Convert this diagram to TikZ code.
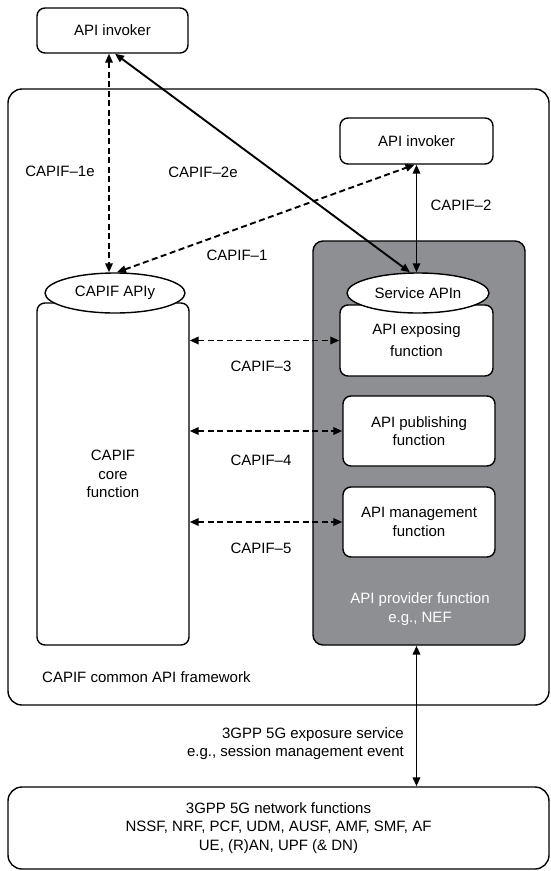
\documentclass[tikz,border=0pt]{standalone}
\usepackage{fontspec}
\setmainfont{Liberation Sans}
\usetikzlibrary{arrows.meta,shapes.geometric}
\definecolor{provgray}{RGB}{142,143,147}
\begin{document}
\begin{tikzpicture}[x=1pt,y=-1pt,
  every node/.style={font=\fontsize{15}{18.5}\selectfont},
  box/.style={draw, line width=1.4pt, rounded corners=8pt, fill=white, align=center, inner sep=0pt},
  oval/.style={draw, ellipse, line width=1.4pt, fill=white, inner sep=0pt},
  lbl/.style={align=center, inner sep=0pt},
  link/.style={line width=1.9pt, {Triangle[length=9pt,width=7.5pt]}-{Triangle[length=9pt,width=7.5pt]}},
  dlink/.style={link, dash pattern=on 6pt off 3.5pt}
]
\useasboundingbox (0,0) rectangle (550,871);

% containers
\node[box, rounded corners=14pt, minimum width=541pt, minimum height=616pt] (frame) at (278.5,397) {};
\node[box, minimum width=151pt, minimum height=45pt] (inv1) at (112.5,30.5) {API invoker};
\node[box, minimum width=153pt, minimum height=46pt] (inv2) at (416.5,141) {API invoker};
\node[box, fill=provgray, rounded corners=10pt, minimum width=212pt, minimum height=404pt] (grey) at (419,443) {};
\node[box, minimum width=152pt, minimum height=342pt] (core) at (113,474) {CAPIF\\core\\function};
\node[box, minimum width=153pt, minimum height=71pt] (expo) at (416.5,340.5) {API exposing\\[3.5pt]function};
\node[box, minimum width=152pt, minimum height=70pt] (pub) at (419,431) {API publishing\\function};
\node[box, minimum width=152pt, minimum height=70pt] (mgmt) at (419,522) {API management\\function};
\node[oval, minimum width=140pt, minimum height=40pt] (apiy) at (115,293) {CAPIF APIy};
\node[oval, minimum width=142pt, minimum height=40pt] (sapi) at (418,293) {Service APIn};
\node[lbl, text=white] (prov) at (420,609) {API provider function\\e.g., NEF};
\node[lbl, anchor=west] (fwl) at (42,677) {CAPIF common API framework};
\node[box, rounded corners=14pt, minimum width=541pt, minimum height=82pt] (net) at (278.5,828)
  {3GPP 5G network functions\\NSSF, NRF, PCF, UDM, AUSF, AMF, SMF, AF\\UE, (R)AN, UPF (\& DN)};
\node[lbl, align=right, anchor=east] (expl) at (404,743.5) {3GPP 5G exposure service\\e.g., session management event};

% interface labels
\node[lbl] (l1e) at (60,171) {CAPIF\textendash 1e};
\node[lbl] (l2e) at (203,172) {CAPIF\textendash 2e};
\node[lbl] (l2) at (461,205) {CAPIF\textendash 2};
\node[lbl] (l1) at (237,255) {CAPIF\textendash 1};
\node[lbl] (l3) at (261,366) {CAPIF\textendash 3};
\node[lbl] (l4) at (261,460) {CAPIF\textendash 4};
\node[lbl] (l5) at (261,548) {CAPIF\textendash 5};

% connectors
\draw[dlink] ([xshift=-3.5pt]inv1.south) -- ([xshift=-6pt]apiy.north);
\draw[dlink] ([xshift=2pt]apiy.north) -- ([xshift=-2pt]inv2.south);
\draw[link] ([xshift=2.5pt]inv1.south) -- ([xshift=-8pt]sapi.north);
\draw[link] (inv2.south) -- (inv2.south |- sapi.north);
\draw[dlink] (core.east |- expo.west) -- (expo.west);
\draw[dlink] (core.east |- pub.west) -- (pub.west);
\draw[dlink] (core.east |- mgmt.west) -- (mgmt.west);
\draw[link] (grey.south -| inv2.south) -- (net.north -| inv2.south);
\end{tikzpicture}
\end{document}
